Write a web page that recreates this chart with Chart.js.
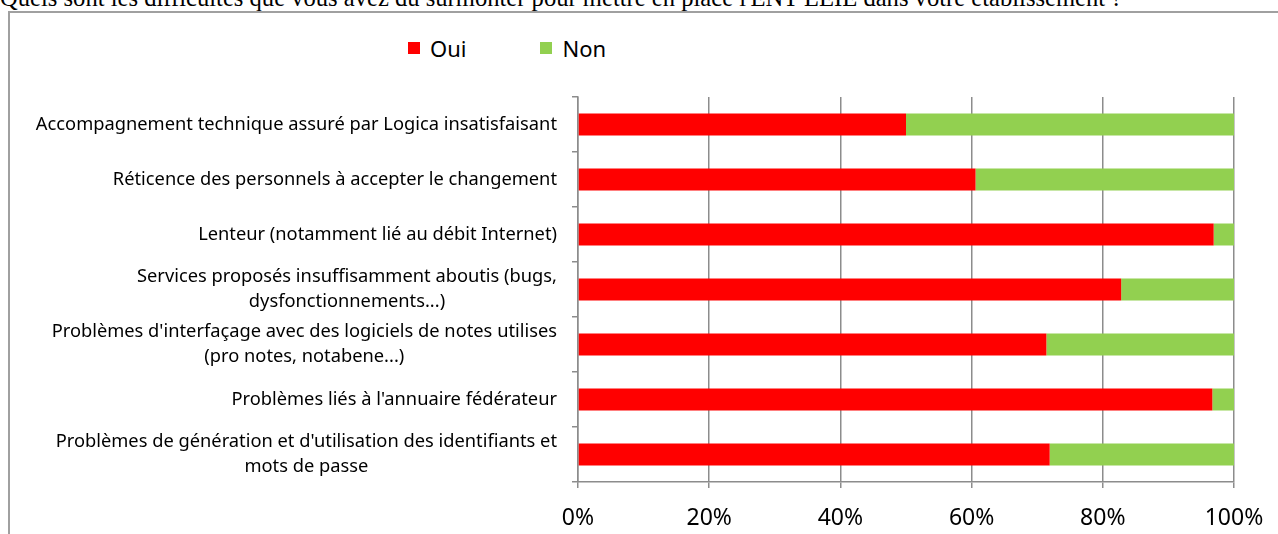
<!DOCTYPE html>
<html>
<head>
<meta charset="utf-8">
<script src="https://cdn.jsdelivr.net/npm/chart.js@4"></script>
<style>
  html, body { margin: 0; padding: 0; background: #fff; overflow: hidden; }
  #page { position: relative; width: 1278px; height: 534px; }
  #question {
    position: absolute; left: 0; top: -14px; white-space: nowrap;
    font-family: "Liberation Serif", "Times New Roman", serif;
    font-size: 24.6px; line-height: 24px; color: #000;
  }
  #frame {
    position: absolute; left: 8px; top: 11px; width: 1400px; height: 600px;
    border: 2px solid #a0a0a0; box-sizing: border-box;
  }
  #legend {
    position: absolute; left: 408px; top: 34px; height: 28px;
    font-family: "Noto Sans", sans-serif; font-size: 22px; color: #000;
    display: flex; align-items: center;
  }
  .item { display: flex; align-items: center; margin-right: 74px; }
  .box { width: 12px; height: 12px; margin-right: 10px; }
  canvas { position: absolute; left: 0; top: 0; }
</style>
</head>
<body>
<div id="page">
  <div id="question">Quels sont les difficultés que vous avez dû surmonter pour mettre en place l'ENT LEIE dans votre établissement ?</div>
  <div id="frame"></div>
  <div id="legend"></div>
  <canvas id="chart" width="1278" height="534"></canvas>
</div>
<script>
// ---------------------------------------------
// Data
// ---------------------------------------------

const categories = [
  ["Accompagnement technique assuré par Logica insatisfaisant"],
  ["Réticence des personnels à accepter le changement"],
  ["Lenteur (notamment lié au débit Internet)"],
  ["Services proposés insuffisamment aboutis (bugs,", "dysfonctionnements...)"],
  ["Problèmes d'interfaçage avec des logiciels de notes utilises", "(pro notes, notabene...)"],
  ["Problèmes liés à l'annuaire fédérateur"],
  ["Problèmes de génération et d'utilisation des identifiants et", "mots de passe"]
];

const oui = [50, 60.6, 96.9, 82.8, 71.4, 96.7, 71.9];
const non = [50, 39.4, 3.1, 17.2, 28.6, 3.3, 28.1];

const xTicks = [0, 20, 40, 60, 80, 100];

const seriesNames = ["Oui", "Non"];
const seriesColors = ["#ff0000", "#92d050"];

// ---------------------------------------------
// Helpers
// ---------------------------------------------

const FONT = '"Noto Sans", sans-serif';
const GRID = "#8c8c8c";

function buildLegend() {
  const el = document.getElementById("legend");
  seriesNames.forEach((name, i) => {
    const item = document.createElement("div");
    item.className = "item";
    const box = document.createElement("span");
    box.className = "box";
    box.style.background = seriesColors[i];
    const txt = document.createElement("span");
    txt.textContent = name;
    item.appendChild(box);
    item.appendChild(txt);
    el.appendChild(item);
  });
}

// category labels: block right-aligned to the axis, lines centred in the block
const categoryLabels = {
  id: "categoryLabels",
  afterDraw(chart) {
    const { ctx } = chart;
    const y = chart.scales.y;
    const right = chart.chartArea.left - 21;
    const lineH = 24.5;
    ctx.save();
    ctx.font = "18.3px " + FONT;
    ctx.fillStyle = "#000";
    ctx.textAlign = "center";
    ctx.textBaseline = "middle";
    categories.forEach((lines, i) => {
      const cy = y.getPixelForValue(i);
      const w = Math.max(...lines.map(l => ctx.measureText(l).width));
      const cx = right - w / 2;
      const top = cy - (lines.length - 1) * lineH / 2;
      lines.forEach((l, j) => ctx.fillText(l, cx, top + j * lineH));
    });
    ctx.restore();
  }
};

// ---------------------------------------------
// Build chart
// ---------------------------------------------

buildLegend();

new Chart(document.getElementById("chart"), {
  type: "bar",
  data: {
    labels: categories,
    datasets: seriesNames.map((name, i) => ({
      label: name,
      data: i === 0 ? oui : non,
      backgroundColor: seriesColors[i],
      borderWidth: 0,
      categoryPercentage: 1,
      barPercentage: 0.4
    }))
  },
  options: {
    indexAxis: "y",
    responsive: false,
    animation: false,
    events: [],
    layout: { padding: { top: 97, right: 44, left: 0, bottom: 0 } },
    plugins: {
      legend: { display: false },
      tooltip: { enabled: false }
    },
    scales: {
      x: {
        stacked: true,
        min: 0,
        max: 100,
        afterBuildTicks: s => { s.ticks = xTicks.map(v => ({ value: v })); },
        afterFit: s => {
          s.height = 52;
          s.paddingLeft = 0;
          s.paddingRight = 0;
        },
        border: { color: GRID, width: 1.5 },
        grid: { color: GRID, lineWidth: 1.5, tickLength: 6, drawTicks: true },
        ticks: {
          color: "#000",
          padding: 17,
          font: { family: FONT, size: 23 },
          callback: v => v + "%"
        }
      },
      y: {
        stacked: true,
        afterFit: s => { s.width = 578; },
        border: { color: GRID, width: 1.5 },
        grid: { offset: true, drawOnChartArea: false, color: GRID, lineWidth: 1.5, tickLength: 6 },
        ticks: { display: false }
      }
    }
  },
  plugins: [categoryLabels]
});
</script>
</body>
</html>
